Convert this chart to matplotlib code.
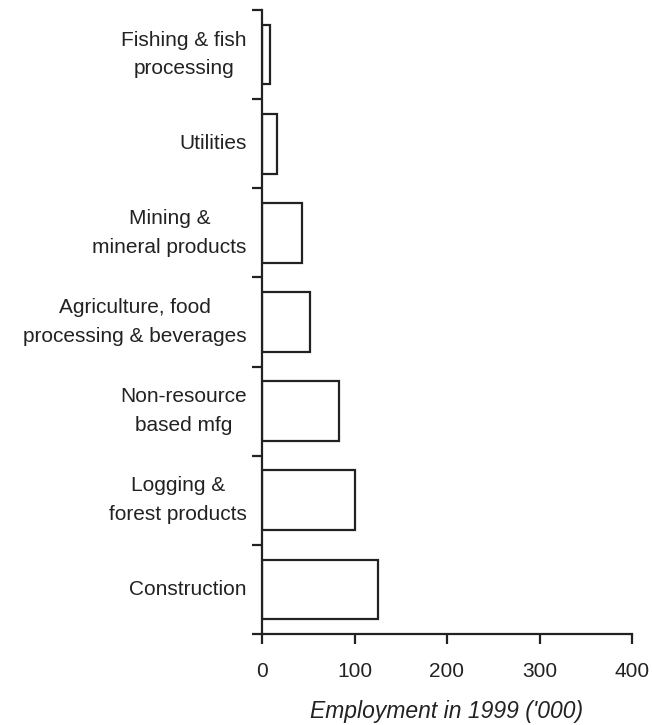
import matplotlib
matplotlib.use("Agg")
import matplotlib.pyplot as plt
import numpy as np

categories = ["Construction", "Logging &\nforest products", "Non-resource\nbased mfg",
              "Agriculture, food\nprocessing & beverages", "Mining &\nmineral products",
              "Utilities", "Fishing & fish\nprocessing"]
employment = [125, 101, 83, 52, 43, 16, 9]
xticks = [0, 100, 200, 300, 400]
xlabel = "Employment in 1999 ('000)"

plt.rcParams['font.family'] = ['Liberation Sans', 'DejaVu Sans']

fig = plt.figure(figsize=(6.52, 7.25), dpi=100)
ax = fig.add_axes([262/652, 1 - 634/725, (632-262)/652, (634-10)/725])

y = np.arange(len(categories))
ax.barh(y, employment, height=0.67, color='white', edgecolor='#222222', linewidth=1.6)

ax.set_xlim(0, 400)
ax.set_ylim(-0.5, len(categories) - 0.5)
ax.set_xticks(xticks)
ax.set_xticklabels([str(t) for t in xticks], fontsize=15, color='#222222')
ax.set_yticks(np.arange(-0.5, len(categories), 1.0))
ax.set_yticklabels([])
ax.set_yticks(y, minor=True)
ax.set_yticklabels(categories, minor=True, fontsize=15, color='#222222',
                   multialignment='center', linespacing=1.65, va='center')
ax.tick_params(axis='y', which='minor', length=0, pad=11)
ax.tick_params(axis='y', which='major', length=7, width=1.6, direction='out', color='#222222')
ax.tick_params(axis='x', length=7, width=1.6, direction='out', pad=13, color='#222222')

for s in ['top', 'right']:
    ax.spines[s].set_visible(False)
for s in ['left', 'bottom']:
    ax.spines[s].set_linewidth(1.6)
    ax.spines[s].set_color('#222222')

ax.set_xlabel(xlabel, fontsize=16.5, style='italic', color='#222222', labelpad=14)

fig.savefig("out.png", dpi=100)
